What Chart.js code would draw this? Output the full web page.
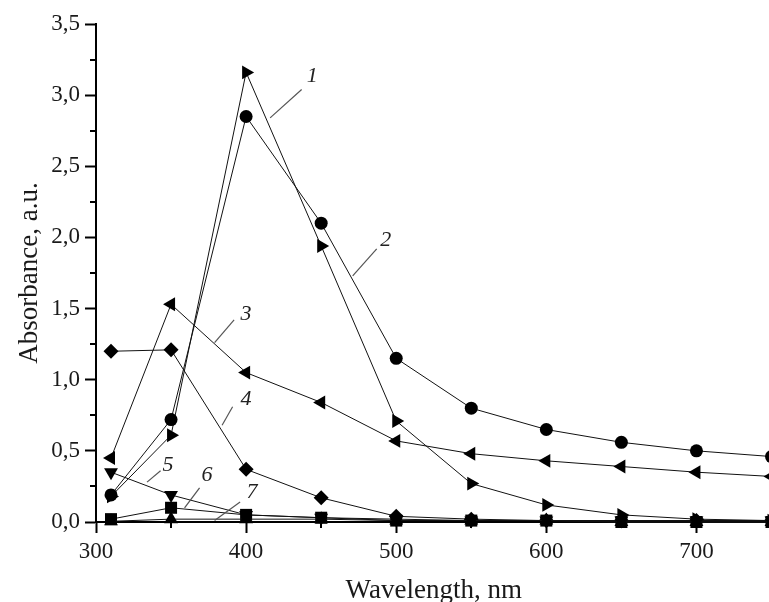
<!DOCTYPE html>
<html>
<head>
<meta charset="utf-8">
<script src="https://cdn.jsdelivr.net/npm/chart.js@4.4.0/dist/chart.umd.min.js"></script>
<style>
  html, body { margin: 0; padding: 0; background: #fff; overflow: hidden; }
  #wrap { width: 780px; height: 602px; }
</style>
</head>
<body>
<div id="wrap"><canvas id="mycanvas" width="780" height="602"></canvas></div>
<script>
// wavelengths (nm)
const wavelength = [310, 350, 400, 450, 500, 550, 600, 650, 700, 750];

// absorbance of each curve
const curve1 = [0.18, 0.61, 3.16, 1.94, 0.71, 0.27, 0.12, 0.05, 0.02, 0.01];
const curve2 = [0.19, 0.72, 2.85, 2.10, 1.15, 0.80, 0.65, 0.56, 0.50, 0.46];
const curve3 = [0.45, 1.53, 1.05, 0.84, 0.57, 0.48, 0.43, 0.39, 0.35, 0.32];
const curve4 = [1.20, 1.21, 0.37, 0.17, 0.04, 0.02, 0.01, 0.01, 0.01, 0.01];
const curve5 = [0.35, 0.19, 0.05, 0.03, 0.02, 0.01, 0.01, 0.01, 0.01, 0.01];
const curve6 = [0.02, 0.10, 0.05, 0.03, 0.01, 0.01, 0.01, 0.00, 0.00, 0.00];
const curve7 = [0.005, 0.02, 0.02, 0.02, 0.01, 0.01, 0.01, 0.00, 0.00, 0.00];

const curveNames = ["1", "2", "3", "4", "5", "6", "7"];

// axis ticks
const xTickLabels = [300, 400, 500, 600, 700];
const yTickLabels = [0, 0.5, 1.0, 1.5, 2.0, 2.5, 3.0, 3.5];

// curve number labels with leader lines (data units: text, line start, line end)
const curveTags = [
    { txt: [444, 3.13], from: [437, 3.04], to: [416, 2.84] },
    { txt: [493, 1.98], from: [487, 1.92], to: [471, 1.73] },
    { txt: [400, 1.46], from: [392, 1.42], to: [379, 1.26] },
    { txt: [400, 0.86], from: [391, 0.81], to: [384, 0.68] },
    { txt: [348, 0.40], from: [343, 0.36], to: [334, 0.28] },
    { txt: [374, 0.33], from: [369, 0.24], to: [359, 0.10] },
    { txt: [404, 0.21], from: [396, 0.14], to: [379, 0.01] }
];

const allCurves = [curve1, curve2, curve3, curve4, curve5, curve6, curve7];
const markers = [
    { style: "triangle", rot: 90, r: 8 },
    { style: "circle", rot: 0, r: 6.5 },
    { style: "triangle", rot: -90, r: 8 },
    { style: "rectRot", rot: 0, r: 7.5 },
    { style: "triangle", rot: 180, r: 8 },
    { style: "rect", rot: 0, r: 8.5 },
    { style: "triangle", rot: 0, r: 8 }
];

let datasets = [];
for (let i = allCurves.length - 1; i >= 0; i--) {
    datasets.push({
        label: curveNames[i],
        data: wavelength.map((w, k) => ({ x: w, y: allCurves[i][k] })),
        borderColor: "#111",
        backgroundColor: "#000",
        borderWidth: 1,
        pointStyle: markers[i].style,
        pointRotation: markers[i].rot,
        pointRadius: markers[i].r,
        pointBorderWidth: 0,
        pointBackgroundColor: "#000",
        tension: 0,
        clip: false
    });
}

const isXMajor = v => xTickLabels.includes(v);
const isYMajor = v => yTickLabels.some(t => Math.abs(t - v) < 1e-9);

// short minor ticks, curve numbers and leader lines
const extras = {
    id: "extras",
    afterDraw(chart) {
        const ctx = chart.ctx;
        const xs = chart.scales.x, ys = chart.scales.y;
        const area = chart.chartArea;
        ctx.save();
        ctx.strokeStyle = "#000";
        ctx.lineWidth = 2;
        xs.ticks.forEach(t => {
            if (isXMajor(t.value)) return;
            const px = Math.round(xs.getPixelForValue(t.value));
            ctx.beginPath();
            ctx.moveTo(px, area.bottom);
            ctx.lineTo(px, area.bottom + 6);
            ctx.stroke();
        });
        ys.ticks.forEach(t => {
            if (isYMajor(t.value)) return;
            const py = Math.round(ys.getPixelForValue(t.value));
            ctx.beginPath();
            ctx.moveTo(area.left, py);
            ctx.lineTo(area.left - 6, py);
            ctx.stroke();
        });

        ctx.strokeStyle = "#555";
        ctx.lineWidth = 1.2;
        ctx.fillStyle = "#222";
        ctx.font = "italic 22px 'Liberation Serif'";
        ctx.textAlign = "center";
        ctx.textBaseline = "middle";
        curveTags.forEach((tag, i) => {
            ctx.beginPath();
            ctx.moveTo(xs.getPixelForValue(tag.from[0]), ys.getPixelForValue(tag.from[1]));
            ctx.lineTo(xs.getPixelForValue(tag.to[0]), ys.getPixelForValue(tag.to[1]));
            ctx.stroke();
            ctx.fillText(curveNames[i], xs.getPixelForValue(tag.txt[0]), ys.getPixelForValue(tag.txt[1]));
        });
        ctx.restore();
    }
};

let ctx = document.getElementById("mycanvas");

let chart = new Chart(ctx, {
    type: "line",
    data: { datasets: datasets },
    plugins: [extras],
    options: {
        responsive: false,
        animation: false,
        layout: { padding: { top: 24, right: 7, bottom: 0, left: 0 } },
        plugins: {
            legend: { display: false },
            tooltip: { enabled: false }
        },
        scales: {
            x: {
                type: "linear",
                min: 300,
                max: 750,
                afterFit(scale) { scale.height = 80; },
                border: { color: "#000", width: 2 },
                grid: {
                    drawOnChartArea: false,
                    tickLength: 11,
                    tickWidth: 2,
                    tickColor: c => (c.tick && isXMajor(c.tick.value)) ? "#000" : "rgba(0,0,0,0)"
                },
                ticks: {
                    stepSize: 50,
                    autoSkip: false,
                    maxRotation: 0,
                    padding: 5,
                    color: "#1a1a1a",
                    font: { family: "'Liberation Serif'", size: 23 },
                    callback: v => isXMajor(v) ? String(v) : ""
                },
                title: {
                    display: true,
                    text: "Wavelength, nm",
                    color: "#1a1a1a",
                    font: { family: "'Liberation Serif'", size: 27, lineHeight: 1 },
                    padding: { top: 0, bottom: -2 }
                }
            },
            y: {
                type: "linear",
                min: 0,
                max: 3.5,
                afterFit(scale) { scale.width = 96; },
                border: { color: "#000", width: 2 },
                grid: {
                    drawOnChartArea: false,
                    tickLength: 11,
                    tickWidth: 2,
                    tickColor: c => (c.tick && isYMajor(c.tick.value)) ? "#000" : "rgba(0,0,0,0)"
                },
                ticks: {
                    stepSize: 0.25,
                    autoSkip: false,
                    padding: 5,
                    color: "#1a1a1a",
                    font: { family: "'Liberation Serif'", size: 23 },
                    callback: v => isYMajor(v) ? v.toFixed(1).replace(".", ",") : ""
                },
                title: {
                    display: true,
                    text: "Absorbance, a.u.",
                    color: "#1a1a1a",
                    font: { family: "'Liberation Serif'", size: 27, lineHeight: 1 },
                    padding: { top: 16, bottom: 0 }
                }
            }
        }
    }
});
</script>
</body>
</html>
